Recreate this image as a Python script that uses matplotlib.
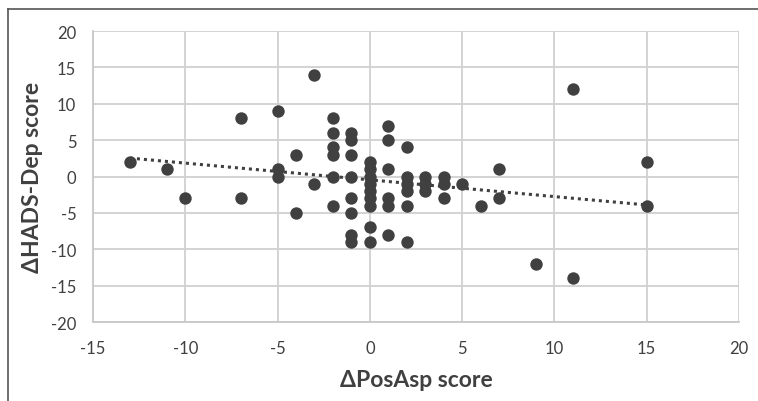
import matplotlib
matplotlib.use("Agg")
import matplotlib.pyplot as plt
from matplotlib.lines import Line2D
import numpy as np

plt.rcParams['font.family'] = ['Lato', 'DejaVu Sans']
plt.rcParams['axes.unicode_minus'] = False

# change in PosAsp score vs change in HADS-Dep score
pos_asp = [-13, -11, -10, -7, -7, -5, -5, -5, -4, -4, -3, -3,
           -2, -2, -2, -2, -2, -2,
           -1, -1, -1, -1, -1, -1, -1, -1,
           0, 0, 0, 0, 0, 0, 0, 0, 0,
           1, 1, 1, 1, 1, 1,
           2, 2, 2, 2, 2, 2,
           3, 3, 3,
           4, 4, 4,
           5, 6, 7, 7, 9, 11, 11, 15, 15]
hads_dep = [2, 1, -3, 8, -3, 9, 1, 0, 3, -5, 14, -1,
            8, 6, 4, 3, 0, -4,
            6, 5, 3, 0, -3, -5, -8, -9,
            2, 1, 0, -1, -2, -3, -4, -7, -9,
            7, 5, 1, -3, -4, -8,
            4, 0, -1, -2, -4, -9,
            0, -1, -2,
            0, -1, -3,
            -1, -4, 1, -3, -12, 12, -14, 2, -4]

x_ticks = [-15, -10, -5, 0, 5, 10, 15, 20]
y_ticks = [-20, -15, -10, -5, 0, 5, 10, 15, 20]

fig = plt.figure(figsize=(7.58, 4.02), dpi=100)
ax = fig.add_axes([93 / 758, 79 / 402, 646 / 758, 291 / 402])

ax.scatter(pos_asp, hads_dep, s=80, color='#404040', zorder=3, linewidths=0)

# linear trendline
x = np.array(pos_asp)
slope, icpt = np.polyfit(x, hads_dep, 1)
xt = np.array([x.min(), x.max()])
ax.plot(xt, slope * xt + icpt, color='#404040', lw=2.2, ls=(0, (1, 1.3)), zorder=2)

ax.set_xlim(-15, 20)
ax.set_ylim(-20, 20)
ax.set_xticks(x_ticks)
ax.set_yticks(y_ticks)
ax.grid(True, color='#d0d0d0', lw=1.3)
ax.set_axisbelow(True)
for s in ['top', 'right']:
    ax.spines[s].set_visible(False)
for s in ['left', 'bottom']:
    ax.spines[s].set_color('#c8c8c8')
    ax.spines[s].set_linewidth(1.3)
ax.tick_params(length=0, labelsize=12, labelcolor='#404040')
ax.tick_params(axis='x', pad=13)
ax.tick_params(axis='y', pad=12)

ax.set_xlabel('ΔPosAsp score', fontsize=16.5, fontweight='bold', color='#404040', labelpad=9)
ax.set_ylabel('ΔHADS-Dep score', fontsize=16.5, fontweight='bold', color='#404040', labelpad=6)

# frame lines of the cropped figure
fig.add_artist(Line2D([8 / 758, 8 / 758], [0, 392 / 402], color='#555555', lw=1.2))
fig.add_artist(Line2D([8 / 758, 1], [392 / 402, 392 / 402], color='#555555', lw=1.2))

fig.savefig('out.png', dpi=100)
